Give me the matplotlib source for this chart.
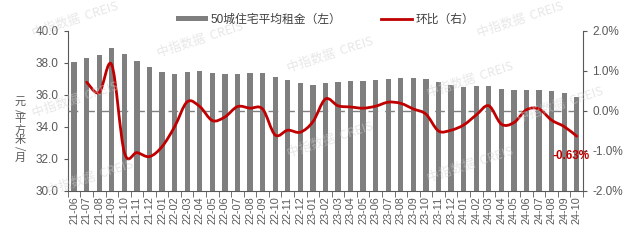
import numpy as np
import matplotlib
matplotlib.use("Agg")
import matplotlib.pyplot as plt
from matplotlib.path import Path
from matplotlib.patches import PathPatch, Patch
from matplotlib.lines import Line2D

plt.rcParams['font.family'] = ['Liberation Sans', 'Noto Sans CJK SC']

# ---- data ----
months = ["21-06", "21-07", "21-08", "21-09", "21-10", "21-11", "21-12",
          "22-01", "22-02", "22-03", "22-04", "22-05", "22-06", "22-07", "22-08",
          "22-09", "22-10", "22-11", "22-12",
          "23-01", "23-02", "23-03", "23-04", "23-05", "23-06", "23-07", "23-08",
          "23-09", "23-10", "23-11", "23-12",
          "24-01", "24-02", "24-03", "24-04", "24-05", "24-06", "24-07", "24-08",
          "24-09", "24-10"]
rent = [38.08, 38.33, 38.50, 38.94, 38.54, 38.15, 37.73,
        37.44, 37.31, 37.44, 37.50, 37.38, 37.31, 37.33, 37.38,
        37.36, 37.15, 36.94, 36.75,
        36.65, 36.75, 36.83, 36.88, 36.88, 36.92, 36.98, 37.06,
        37.04, 36.98, 36.81, 36.60,
        36.50, 36.56, 36.56, 36.40, 36.31, 36.31, 36.31, 36.27,
        36.10, 35.90]
mom = [np.nan, 0.72, 0.46, 1.15, -1.04, -1.04, -1.14,
       -0.89, -0.39, 0.23, 0.11, -0.24, -0.15, 0.11, 0.07,
       0.05, -0.60, -0.48, -0.53,
       -0.27, 0.30, 0.13, 0.10, 0.07, 0.12, 0.22, 0.19,
       0.05, -0.08, -0.50, -0.48,
       -0.35, -0.10, 0.13, -0.33, -0.29, 0.03, 0.05, -0.23,
       -0.39, -0.63]

bar_label = "50城住宅平均租金（左）"
line_label = "环比（右）"
last_label = "-0.63%"
unit_chars = ["元", "/", "平", "方", "米", "/", "月"]

bar_color = "#7f7f7f"
line_color = "#c00000"
text_color = "#595959"

fig = plt.figure(figsize=(6.4, 2.41), dpi=100)
ax = fig.add_axes([0.106, 0.2075, 0.805, 0.664])

x = np.arange(len(months))
ax.bar(x, rent, width=0.42, color=bar_color, zorder=2)
ax.set_xlim(-0.5, len(months) - 0.5)
ax.set_ylim(30, 40)
ax.set_yticks(np.arange(30, 40.1, 2))
ax.set_yticklabels([f"{v:.1f}" for v in np.arange(30, 40.1, 2)])
ax.set_xticks(x)
ax.set_xticklabels(months, rotation=90)
ax.set_xticks(np.arange(-0.5, len(months)), minor=True)
ax.tick_params(axis='x', which='major', length=0, pad=4, labelsize=7.8, colors=text_color)
ax.tick_params(axis='x', which='minor', length=4, color="#595959")
ax.tick_params(axis='y', length=3, labelsize=8.5, colors=text_color, color="#595959")
for s in ["top", "right"]:
    ax.spines[s].set_visible(False)
for s in ["left", "bottom"]:
    ax.spines[s].set_color("#595959")

ax2 = ax.twinx()
ax2.set_ylim(-2.0, 2.0)
ax2.set_yticks([-2, -1, 0, 1, 2])
ax2.set_yticklabels([f"{v:.1f}%" for v in [-2, -1, 0, 1, 2]])
ax2.tick_params(axis='y', length=3, labelsize=8.5, colors=text_color, color="#595959")
for s in ["top", "left", "bottom"]:
    ax2.spines[s].set_visible(False)
ax2.spines["right"].set_color("#595959")

ax2.axhline(0, color="#808080", lw=1, ls=(0, (7, 5)), zorder=1)

# smooth line (Catmull-Rom as cubic Bezier, like Excel's smoothed line)
px = x[1:].astype(float)
py = np.array(mom[1:])
verts = [(px[0], py[0])]
codes = [Path.MOVETO]
n = len(px)
for i in range(n - 1):
    p0 = (px[max(i - 1, 0)], py[max(i - 1, 0)])
    p1 = (px[i], py[i])
    p2 = (px[i + 1], py[i + 1])
    p3 = (px[min(i + 2, n - 1)], py[min(i + 2, n - 1)])
    c1 = (p1[0] + (p2[0] - p0[0]) / 6, p1[1] + (p2[1] - p0[1]) / 6)
    c2 = (p2[0] - (p3[0] - p1[0]) / 6, p2[1] - (p3[1] - p1[1]) / 6)
    verts += [c1, c2, p2]
    codes += [Path.CURVE4] * 3
ax2.add_patch(PathPatch(Path(verts, codes), fill=False, edgecolor=line_color,
                        lw=2, capstyle='round', joinstyle='round', zorder=3))

ax2.text(x[-1] - 0.45, mom[-1] - 0.5, last_label, color=line_color, fontsize=8.5,
         fontweight='bold', ha='center', va='center')

# axis title, stacked vertically; slashes turned like in vertical text
ys = [102, 111, 119, 130, 140, 148.5, 158]
for ch, yy in zip(unit_chars, ys):
    fig.text(20 / 640, 1 - yy / 241, ch, ha='center', va='center',
             fontsize=8, color=text_color, rotation=270 if ch == "/" else 0,
             family=['Noto Sans CJK SC', 'DejaVu Sans'])

handles = [Patch(facecolor=bar_color), Line2D([], [], color=line_color, lw=2)]
fig.legend(handles, [bar_label, line_label], loc='center', bbox_to_anchor=(0.508, 0.918),
           ncol=2, frameon=False, handlelength=2.7, handleheight=0.35,
           handletextpad=0.25, columnspacing=3.3, labelcolor="#404040",
           prop={'family': ['Liberation Sans', 'Noto Sans CJK SC'], 'size': 8.5})

# faint watermarks
wm = "中指数据  CREIS"
for (wx, wy) in [(75, 20), (200, 40), (330, 55), (470, 80), (75, 100),
                 (330, 140), (470, 165), (90, 178), (560, 105), (520, 20)]:
    fig.text(wx / 640, 1 - wy / 241, wm, rotation=18, ha='center', va='center',
             fontsize=9, color="#d0d0d0", alpha=0.5, zorder=0,
             family=['Noto Sans CJK SC', 'DejaVu Sans'])

fig.savefig("out.png", dpi=100)
